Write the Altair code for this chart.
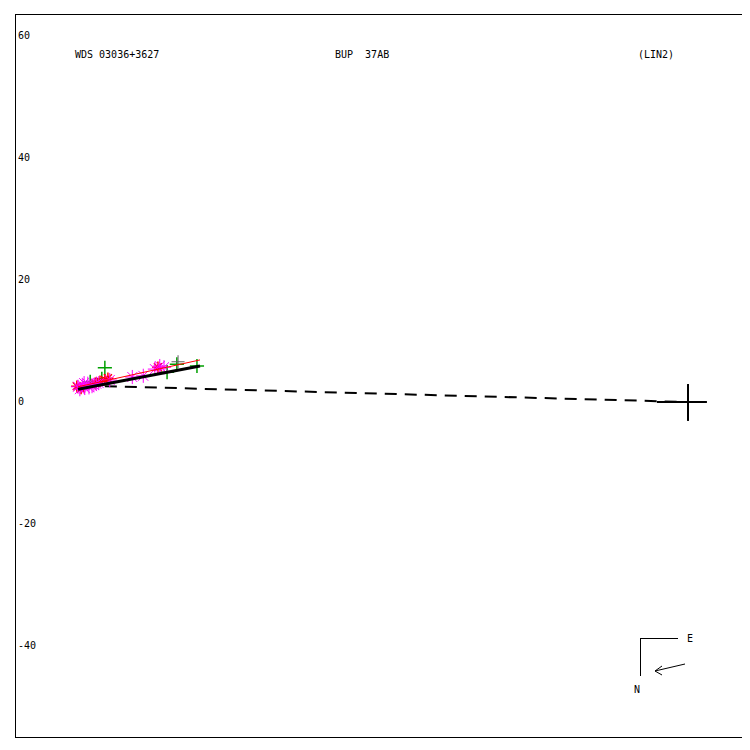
import altair as alt
import pandas as pd

# ---- data ----
tick_values = [60, 40, 20, 0, -20, -40]

mag_x = [-100.0, -99.3, -98.9, -98.4, -97.7, -97.0, -96.6, -99.0, -99.7, -98.2, -97.4,
         -94.8, -91.1, -89.3, -87.4, -86.6, -85.9]
mag_y = [2.5, 2.8, 2.3, 3.0, 2.6, 3.0, 3.1, 3.1, 2.1, 2.4, 2.8,
         3.6, 4.1, 4.3, 5.4, 5.9, 5.7]

red_x = [-100.2, -99.5, -96.4, -95.6, -95.1, -97.2, -86.9]
red_y = [2.6, 2.2, 3.4, 3.6, 3.9, 3.1, 5.7]

grn_x = [-95.6, -85.4, -80.5, -98.0, -96.1, -83.8]
grn_y = [5.6, 4.9, 5.9, 3.3, 3.8, 6.2]

gray_x = [-83.6]
gray_y = [6.6]

fit_x = [-100.0, -80.0]
fit_y = [2.1, 5.9]

red_line_x = [-100.0, -80.0]
red_line_y = [2.5, 6.9]

dash_x = [-95.6, 0.0]
dash_y = [2.6, 0.0]

# ---- scales (6.1 px per unit on both axes) ----
W, H = 727, 724
PX = 6.1
XDOM = [-110.33, -110.33 + W / PX]
YDOM = [63.61 - H / PX, 63.61]
xs = alt.Scale(domain=XDOM, nice=False, zero=False)
ys = alt.Scale(domain=YDOM, nice=False, zero=False)
FONT = "DejaVu Sans Mono"


def pts(xv, yv):
    return pd.DataFrame({"x": xv, "y": yv})


X = alt.X("x:Q", scale=xs, axis=None)
Y = alt.Y("y:Q", scale=ys, axis=None)

ASTER = "M-1,0L1,0M0,-1L0,1M-0.7,-0.7L0.7,0.7M-0.7,0.7L0.7,-0.7"
PLUS = "M-1,0L1,0M0,-1L0,1"

frame = alt.Chart(pd.DataFrame({"a": [0]})).mark_rule(color="black", strokeWidth=1)
frame_left = frame.encode(x=alt.value(0.5), y=alt.value(0), y2=alt.value(H))
frame_top = frame.encode(x=alt.value(0), x2=alt.value(W), y=alt.value(0.5))
frame_bot = frame.encode(x=alt.value(0), x2=alt.value(W), y=alt.value(H - 0.5))

ticks = alt.Chart(pd.DataFrame({"y": tick_values, "t": [str(v) for v in tick_values]})).mark_text(
    align="left", baseline="middle", font=FONT, fontSize=10, color="black"
).encode(x=alt.value(3), y=Y, text="t:N")

title_df = pd.DataFrame({
    "t": ["WDS 03036+3627", "BUP\u00a0\u00a037AB", "(LIN2)"],
    "px": [60, 320, 623],
})
titles = alt.Chart(title_df).mark_text(
    align="left", baseline="middle", font=FONT, fontSize=10, color="black"
).encode(x=alt.X("px:Q", scale=None), y=alt.value(41), text="t:N")

mag = alt.Chart(pts(mag_x, mag_y)).mark_point(
    shape=ASTER, size=200, color="#ff00ff", filled=False, strokeWidth=1, opacity=1
).encode(x=X, y=Y)
red = alt.Chart(pts(red_x, red_y)).mark_point(
    shape=ASTER, size=130, color="#ff0000", filled=False, strokeWidth=1.5, opacity=1
).encode(x=X, y=Y)
grn = alt.Chart(pts(grn_x, grn_y)).mark_point(
    shape=PLUS, size=200, color="#00a000", filled=False, strokeWidth=1.5, opacity=1
).encode(x=X, y=Y)
gray = alt.Chart(pts(gray_x, gray_y)).mark_point(
    shape=PLUS, size=170, color="#606060", filled=False, strokeWidth=1, opacity=1
).encode(x=X, y=Y)

dash = alt.Chart(pts(dash_x, dash_y)).mark_line(
    color="black", strokeWidth=2, strokeDash=[12, 8]
).encode(x=X, y=Y)
red_line = alt.Chart(pts(red_line_x, red_line_y)).mark_line(
    color="#ff0000", strokeWidth=1
).encode(x=X, y=Y)
fit = alt.Chart(pts(fit_x, fit_y)).mark_line(
    color="black", strokeWidth=3
).encode(x=X, y=Y)

# primary star cross
cross_df = pd.DataFrame({"x": [-5.1, 0.0], "x2": [3.1, 0.0], "y": [0.0, 2.95], "y2": [0.0, -3.1]})
cross = alt.Chart(cross_df).mark_rule(color="black", strokeWidth=2).encode(
    x=X, x2="x2:Q", y=Y, y2="y2:Q"
)

# compass (plot pixel coordinates)
base = alt.Chart(pd.DataFrame({"a": [0]}))
c_h = base.mark_rule(color="black", strokeWidth=1).encode(x=alt.value(625), x2=alt.value(663), y=alt.value(624.5))
c_v = base.mark_rule(color="black", strokeWidth=1).encode(x=alt.value(625.5), y=alt.value(624), y2=alt.value(662))
c_a = base.mark_rule(color="black", strokeWidth=1).encode(x=alt.value(670), x2=alt.value(640), y=alt.value(650), y2=alt.value(657))
c_a1 = base.mark_rule(color="black", strokeWidth=1).encode(x=alt.value(640), x2=alt.value(647), y=alt.value(657), y2=alt.value(652))
c_a2 = base.mark_rule(color="black", strokeWidth=1).encode(x=alt.value(640), x2=alt.value(647), y=alt.value(657), y2=alt.value(661))
c_e = base.mark_text(align="left", baseline="middle", font=FONT, fontSize=10, color="black").encode(
    x=alt.value(672), y=alt.value(625), text=alt.value("E"))
c_n = base.mark_text(align="left", baseline="middle", font=FONT, fontSize=10, color="black").encode(
    x=alt.value(619), y=alt.value(676), text=alt.value("N"))

chart = alt.layer(
    frame_left, frame_top, frame_bot, ticks, titles,
    dash, grn, gray, red, mag, red_line, fit, cross,
    c_h, c_v, c_a, c_a1, c_a2, c_e, c_n,
).properties(
    width=W, height=H,
    autosize=alt.AutoSizeParams(type="none"),
    padding={"left": 7, "top": 6, "right": 0, "bottom": 0},
    background="white",
).configure_view(stroke="transparent", strokeWidth=0)

chart.save("out.html", embed_options={"renderer": "svg", "actions": False})
